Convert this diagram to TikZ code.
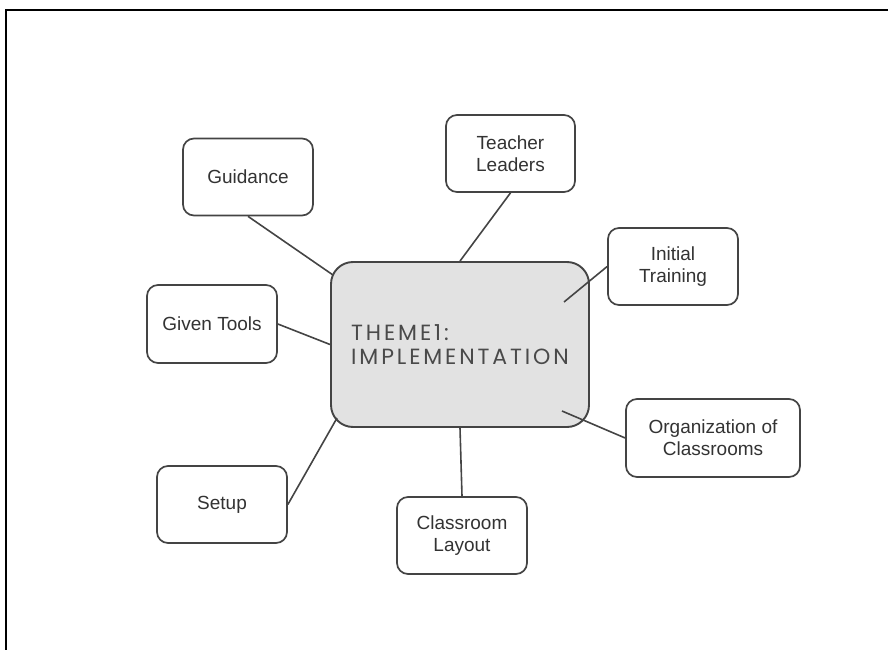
\documentclass[tikz,border=0pt]{standalone}
\usepackage{fontspec}
\setmainfont{Liberation Sans}
\newfontfamily\themefont[LetterSpace=13]{Poppins}
\usetikzlibrary{calc}

\definecolor{edgegray}{HTML}{444444}
\definecolor{textgray}{HTML}{333333}
\definecolor{hubfill}{HTML}{E2E2E2}
\definecolor{hubtext}{HTML}{4A4A4A}

\tikzset{
  topic/.style={draw=edgegray, line width=1.7pt, rounded corners=11pt,
    fill=white, text=textgray, align=center, inner sep=0pt,
    minimum height=77pt, minimum width=130pt,
    font=\fontsize{19}{22}\selectfont},
  hub/.style={draw=edgegray, line width=1.9pt, rounded corners=22pt,
    fill=hubfill, text=hubtext, align=left, inner sep=0pt,
    minimum width=258pt, minimum height=165pt,
    font=\themefont\fontsize{22}{24}\selectfont},
  link/.style={draw=edgegray, line width=1.6pt},
  frameline/.style={draw=black, line width=2pt}
}

\begin{document}
\begin{tikzpicture}[x=1pt, y=-1pt]
  \useasboundingbox (0,0) rectangle (888,650);

  % page frame (top and left edges only)
  \draw[frameline] (888,10) -- (6,10) -- (6,650);

  % central theme
  \node[hub] (hub) at (460,344.5) {THEME1:\\IMPLEMENTATION};

  % surrounding topics
  \node[topic] (guid)  at (248,177)     {Guidance};
  \node[topic, minimum width=129pt] (lead) at (510.5,153.5) {Teacher\\Leaders};
  \node[topic] (train) at (673,266.5)   {Initial\\Training};
  \node[topic, minimum height=78pt] (tools) at (212,324) {Given Tools};
  \node[topic, minimum width=174pt, minimum height=78pt] (org) at (713,438) {Organization of\\Classrooms};
  \node[topic] (setup) at (222,504.5)   {Setup};
  \node[topic] (layout) at (462,535.5)  {Classroom\\Layout};

  % connector ends on or inside the central box
  \coordinate (hGuid)  at (333,275);
  \coordinate (hTrain) at (564,302);
  \coordinate (hSetup) at (337,418);
  \coordinate (hOrg)   at (562,411);

  % connectors
  \draw[link] (guid.south)  -- (hGuid);
  \draw[link] (lead.south)  -- (hub.north);
  \draw[link] (train.west)  -- (hTrain);
  \draw[link] (tools.east)  -- (hub.west);
  \draw[link] (setup.east)  -- (hSetup);
  \draw[link] (layout.north) -- (hub.south);
  \draw[link] (org.west)    -- (hOrg);
\end{tikzpicture}
\end{document}
